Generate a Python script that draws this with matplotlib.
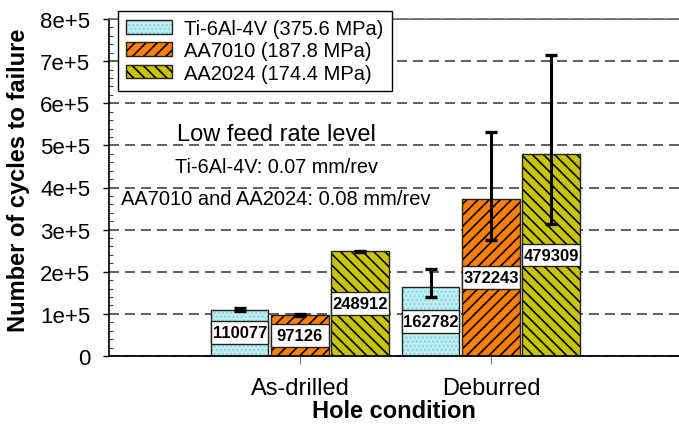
import numpy as np
import matplotlib
matplotlib.use("Agg")
import matplotlib.pyplot as plt
from matplotlib.patches import Patch
from matplotlib.legend_handler import HandlerTuple
from matplotlib.ticker import MultipleLocator, FixedLocator, FixedFormatter

plt.rcParams['font.family'] = ['Liberation Sans', 'DejaVu Sans']
plt.rcParams['hatch.linewidth'] = 1.2

# ---------------- data ----------------
groups = ["As-drilled", "Deburred"]
series = ["Ti-6Al-4V (375.6 MPa)", "AA7010 (187.8 MPa)", "AA2024 (174.4 MPa)"]
ti = [110077, 162782]
aa7010 = [97126, 372243]
aa2024 = [248912, 479309]
ti_err_lo = [3000, 22000]
ti_err_hi = [3000, 43700]
aa7010_err_lo = [3000, 96100]
aa7010_err_hi = [3000, 158800]
aa2024_err_lo = [1500, 166700]
aa2024_err_hi = [1500, 235200]
ytick_values = [0, 100000, 200000, 300000, 400000, 500000, 600000, 700000, 800000]
ytick_labels = ["0", "1e+5", "2e+5", "3e+5", "4e+5", "5e+5", "6e+5", "7e+5", "8e+5"]
annot_title = "Low feed rate level"
annot_lines = ["Ti-6Al-4V: 0.07 mm/rev", "AA7010 and AA2024: 0.08 mm/rev"]
xlabel = "Hole condition"
ylabel = "Number of cycles to failure"

# ---------------- styles ----------------
fills = ["#bdeff3", "#ff8000", "#c8c400"]
hatches = ["....", "///", "\\\\\\"]
hatch_cols = ["#8fd6de", "black", "black"]
values = [ti, aa7010, aa2024]
err_lo = [ti_err_lo, aa7010_err_lo, aa2024_err_lo]
err_hi = [ti_err_hi, aa7010_err_hi, aa2024_err_hi]

W, H = 679, 431
fig = plt.figure(figsize=(W / 100, H / 100), dpi=100)
ax = fig.add_axes([109 / W, 1 - 357 / H, 1 - 109 / W, (357 - 20) / H])

xc = np.arange(1, len(groups) + 1)
bw = 0.30
offs = [-0.315, 0.0, 0.315]
box_h = 54000

handles = []
for i in range(3):
    x = xc + offs[i]
    ax.bar(x, values[i], width=bw, color=fills[i], hatch=hatches[i],
           edgecolor=hatch_cols[i], linewidth=0, zorder=2)
    ax.bar(x, values[i], width=bw, facecolor="none",
           edgecolor="#222222", linewidth=1.0, zorder=3)
    ax.errorbar(x, values[i], yerr=[err_lo[i], err_hi[i]], fmt="none",
                ecolor="black", elinewidth=2.2, capsize=4.3, capthick=2.4, zorder=6)
    # value label boxes
    mids = np.array(values[i]) / 2.0
    ax.bar(x, [box_h] * len(x), bottom=mids - box_h / 2, width=bw,
           color="white", edgecolor="#222222", linewidth=1.0, zorder=4)
    for xx, v, m in zip(x, values[i], mids):
        ax.text(xx, m, f"{v}", ha="center", va="center", fontsize=12,
                fontweight="bold", color="black", zorder=7)
    h1 = Patch(facecolor=fills[i], hatch=hatches[i], edgecolor=hatch_cols[i], linewidth=0)
    h2 = Patch(facecolor="none", edgecolor="#222222", linewidth=1.0)
    handles.append((h1, h2))

ax.set_xlim(0, 2.985)
ax.set_ylim(0, 800000)
ax.set_xticks(xc)
ax.set_xticklabels(groups, fontsize=17)
ax.yaxis.set_major_locator(FixedLocator(ytick_values))
ax.yaxis.set_major_formatter(FixedFormatter(ytick_labels))
ax.yaxis.set_minor_locator(MultipleLocator(20000))
ax.tick_params(axis="y", which="major", direction="out", length=4.5, width=1.0,
               labelsize=16, pad=9)
ax.tick_params(axis="y", which="minor", direction="in", length=3, width=0.8, color="#444444")
ax.tick_params(axis="x", which="major", direction="out", length=6, width=0.8,
               color="#777777", pad=9)

ax.yaxis.grid(True, which="major", color="#444444", linestyle=(0, (6, 3.6)), linewidth=1.2, zorder=1)
ax.set_axisbelow(True)
ax.spines["right"].set_visible(False)
ax.spines["top"].set_color("#666666")
ax.spines["top"].set_linewidth(1.2)
ax.spines["left"].set_linewidth(1.2)
ax.spines["bottom"].set_linewidth(1.3)

ax.set_xlabel(xlabel, fontsize=17, fontweight="bold")
ax.xaxis.set_label_coords(0.5, -0.128)
ax.xaxis.label.set_va("top")
ax.set_ylabel(ylabel, fontsize=17, fontweight="bold")
ax.yaxis.label.set_va("center")
ax.yaxis.set_label_coords(-0.158, 0.525)

ax.text(0.875, 527000, annot_title, ha="center", va="center", fontsize=17)
ax.text(0.875, 449000, annot_lines[0], ha="center", va="center", fontsize=14.3)
ax.text(0.875, 373000, annot_lines[1], ha="center", va="center", fontsize=14.5)

leg = ax.legend(handles, series, handler_map={tuple: HandlerTuple(ndivide=1)},
                loc="upper left", bbox_to_anchor=(118 / W, 1 - 12 / H),
                bbox_transform=fig.transFigure, borderaxespad=0,
                fontsize=14.5, frameon=True, fancybox=False, framealpha=1,
                edgecolor="black", handlelength=2.3, handleheight=0.65,
                handletextpad=0.6, labelspacing=0.16, borderpad=0.4)
leg.get_frame().set_linewidth(1.0)
leg.set_zorder(10)

fig.savefig("out.png", dpi=100)
